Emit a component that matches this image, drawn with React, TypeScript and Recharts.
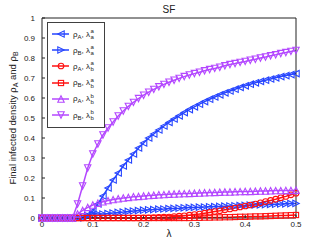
import { LineChart, Line, XAxis, YAxis, Legend, Label } from "recharts";

const lambdas = [
    0, 0.01, 0.02, 0.03, 0.04, 0.05, 0.06, 0.07, 0.08, 0.09,
    0.1, 0.11, 0.12, 0.13, 0.14, 0.15, 0.16, 0.17, 0.18, 0.19,
    0.2, 0.21, 0.22, 0.23, 0.24, 0.25, 0.26, 0.27, 0.28, 0.29,
    0.3, 0.31, 0.32, 0.33, 0.34, 0.35, 0.36, 0.37, 0.38, 0.39,
    0.4, 0.41, 0.42, 0.43, 0.44, 0.45, 0.46, 0.47, 0.48, 0.49, 0.5,
];

// rho_A, lambda_a^a
const rhoAaa = [
    0, 0, 0, 0, 0, 0, 0, 0, 0.004, 0.015,
    0.035, 0.07, 0.11, 0.15, 0.19, 0.225, 0.26, 0.29, 0.32, 0.35,
    0.375, 0.4, 0.42, 0.44, 0.46, 0.478, 0.495, 0.511, 0.527, 0.542,
    0.556, 0.569, 0.582, 0.594, 0.605, 0.616, 0.626, 0.635, 0.644, 0.653,
    0.661, 0.669, 0.676, 0.683, 0.689, 0.695, 0.701, 0.707, 0.712, 0.717, 0.722,
];
// rho_B, lambda_a^a
const rhoBaa = [
    0, 0, 0, 0, 0, 0, 0, 0, 0.004, 0.012,
    0.022, 0.02, 0.02, 0.022, 0.025, 0.028, 0.03, 0.033, 0.035, 0.037,
    0.039, 0.041, 0.042, 0.044, 0.045, 0.047, 0.048, 0.049, 0.051, 0.052,
    0.053, 0.054, 0.055, 0.056, 0.057, 0.058, 0.059, 0.06, 0.061, 0.062,
    0.063, 0.064, 0.065, 0.066, 0.067, 0.068, 0.069, 0.07, 0.071, 0.072, 0.073,
];
// rho_A, lambda_b^a
const rhoAba = [
    0, 0, 0, 0, 0, 0, 0, 0, 0, 0,
    0, 0, 0, 0, 0, 0, 0, 0, 0, 0,
    0.001, 0.001, 0.002, 0.003, 0.004, 0.005, 0.007, 0.009, 0.011, 0.014,
    0.017, 0.02, 0.024, 0.028, 0.032, 0.036, 0.041, 0.045, 0.05, 0.055,
    0.06, 0.065, 0.07, 0.076, 0.082, 0.088, 0.094, 0.101, 0.108, 0.116, 0.124,
];
// rho_B, lambda_b^a
const rhoBba = [
    0, 0, 0, 0, 0, 0, 0, 0, 0, 0,
    0, 0, 0, 0, 0, 0, 0, 0, 0, 0,
    0, 0, 0, 0, 0, 0, 0, 0, 0, 0,
    0.001, 0.001, 0.002, 0.002, 0.003, 0.003, 0.004, 0.004, 0.005, 0.006,
    0.006, 0.007, 0.008, 0.008, 0.009, 0.01, 0.011, 0.012, 0.013, 0.014, 0.015,
];
// rho_A, lambda_b^b
const rhoAbb = [
    0, 0, 0, 0, 0, 0, 0, 0.02, 0.038, 0.053,
    0.065, 0.074, 0.081, 0.087, 0.092, 0.096, 0.1, 0.103, 0.106, 0.108,
    0.11, 0.112, 0.114, 0.116, 0.117, 0.119, 0.12, 0.121, 0.122, 0.123,
    0.124, 0.125, 0.126, 0.127, 0.128, 0.129, 0.13, 0.13, 0.131, 0.132,
    0.133, 0.133, 0.134, 0.135, 0.135, 0.136, 0.137, 0.137, 0.138, 0.138, 0.139,
];
// rho_B, lambda_b^b
const rhoBbb = [
    0, 0, 0, 0, 0, 0, 0, 0.07, 0.16, 0.25,
    0.32, 0.37, 0.415, 0.45, 0.48, 0.51, 0.535, 0.558, 0.578, 0.597,
    0.614, 0.629, 0.643, 0.656, 0.668, 0.679, 0.689, 0.698, 0.707, 0.715,
    0.722, 0.729, 0.736, 0.742, 0.748, 0.754, 0.761, 0.767, 0.772, 0.778,
    0.783, 0.789, 0.794, 0.8, 0.805, 0.811, 0.816, 0.822, 0.827, 0.833, 0.838,
];

const xTicks = [0, 0.1, 0.2, 0.3, 0.4, 0.5];
const yTicks = [0, 0.1, 0.2, 0.3, 0.4, 0.5, 0.6, 0.7, 0.8, 0.9, 1];

const BLUE = "#2645ff";
const RED = "#ff1010";
const PURPLE = "#b448ff";

const series = [
    { key: "rhoAaa", sub: "A", sup: "a", low: "a", color: BLUE, shape: "left" },
    { key: "rhoBaa", sub: "B", sup: "a", low: "a", color: BLUE, shape: "right" },
    { key: "rhoAba", sub: "A", sup: "a", low: "b", color: RED, shape: "circle" },
    { key: "rhoBba", sub: "B", sup: "a", low: "b", color: RED, shape: "square" },
    { key: "rhoAbb", sub: "A", sup: "b", low: "b", color: PURPLE, shape: "up" },
    { key: "rhoBbb", sub: "B", sup: "b", low: "b", color: PURPLE, shape: "down" },
];

const data = lambdas.map((x, i) => ({
    x,
    rhoAaa: rhoAaa[i],
    rhoBaa: rhoBaa[i],
    rhoAba: rhoAba[i],
    rhoBba: rhoBba[i],
    rhoAbb: rhoAbb[i],
    rhoBbb: rhoBbb[i],
}));

const FONT = "'Liberation Sans', Arial, sans-serif";

function marker(shape: string, cx: number, cy: number, color: string, key?: any) {
    const r = 3.2;
    const common = { fill: "none", stroke: color, strokeWidth: 1.1 };
    if (shape === "circle") return <circle key={key} cx={cx} cy={cy} r={2.8} {...common} />;
    if (shape === "square") return <rect key={key} x={cx - 2.6} y={cy - 2.6} width={5.2} height={5.2} {...common} />;
    let pts = "";
    if (shape === "up") pts = `${cx},${cy - r} ${cx + r},${cy + r} ${cx - r},${cy + r}`;
    if (shape === "down") pts = `${cx},${cy + r} ${cx + r},${cy - r} ${cx - r},${cy - r}`;
    if (shape === "left") pts = `${cx - r},${cy} ${cx + r},${cy - r} ${cx + r},${cy + r}`;
    if (shape === "right") pts = `${cx + r},${cy} ${cx - r},${cy - r} ${cx - r},${cy + r}`;
    return <polygon key={key} points={pts} {...common} />;
}

const LegendBox = () => (
    <div
        style={{
            border: "1px solid #404040",
            background: "#fff",
            width: 58,
            padding: "3px 0 4px 0",
            fontFamily: FONT,
            boxSizing: "border-box",
        }}
    >
        {series.map((s) => (
            <div key={s.key} style={{ display: "flex", alignItems: "center", height: 16.2 }}>
                <svg width={22} height={12} style={{ marginLeft: 2 }}>
                    <line x1={2} y1={6} x2={19} y2={6} stroke={s.color} strokeWidth={1.5} />
                    {marker(s.shape, 11, 6, s.color)}
                </svg>
                <span style={{ fontSize: 8, color: "#222", whiteSpace: "nowrap", marginLeft: 1, display: "flex", alignItems: "center" }}>
                    ρ<span style={{ fontSize: 6, position: "relative", top: 2.5 }}>{s.sub}</span>,&nbsp;λ
                    <span style={{ display: "inline-flex", flexDirection: "column", fontSize: 6, lineHeight: "6px", marginLeft: 0.5 }}>
                        <span>{s.sup}</span>
                        <span>{s.low}</span>
                    </span>
                </span>
            </div>
        ))}
    </div>
);

export default function App() {
    return (
        <div style={{ position: "relative", width: 327, height: 246, background: "#fff" }}>
            <style>{"body{margin:0}"}</style>
            <LineChart width={327} height={246} data={data} margin={{ top: 17, right: 30, bottom: 0, left: 0 }}>
                <XAxis
                    dataKey="x"
                    type="number"
                    domain={[0, 0.5]}
                    ticks={xTicks}
                    tickFormatter={(v) => `${v}`}
                    height={28}
                    stroke="#222"
                    tickSize={-3}
                    tickMargin={6}
                    tick={{ fontSize: 8, fill: "#222", fontFamily: FONT }}
                >
                    <Label
                        content={({ viewBox }: any) => (
                            <text x={viewBox.x + viewBox.width / 2} y={237} textAnchor="middle" fontSize={10} fontFamily={FONT} fill="#222">
                                λ
                            </text>
                        )}
                    />
                </XAxis>
                <XAxis
                    xAxisId="top"
                    dataKey="x"
                    type="number"
                    orientation="top"
                    domain={[0, 0.5]}
                    ticks={xTicks}
                    height={1}
                    stroke="#222"
                    tickSize={-3}
                    tick={false}
                >
                    <Label
                        content={() => (
                            <text x={169} y={13} textAnchor="middle" fontSize={10} fontFamily={FONT} fill="#222">
                                SF
                            </text>
                        )}
                    />
                </XAxis>
                <YAxis
                    type="number"
                    domain={[0, 1]}
                    ticks={yTicks}
                    tickFormatter={(v) => `${v}`}
                    width={42}
                    stroke="#222"
                    tickSize={-3}
                    tickMargin={10}
                    tick={{ fontSize: 8, fill: "#222", fontFamily: FONT }}
                >
                    <Label
                        content={({ viewBox }: any) => {
                            const cy = viewBox.y + viewBox.height / 2;
                            return (
                                <text
                                    x={16}
                                    y={cy}
                                    transform={`rotate(-90 16 ${cy})`}
                                    textAnchor="middle"
                                    fontSize={9.5}
                                    fontFamily={FONT}
                                    fill="#222"
                                >
                                    Final infected density ρ
                                    <tspan fontSize={7} dy={2}>A</tspan>
                                    <tspan dy={-2}> and ρ</tspan>
                                    <tspan fontSize={7} dy={2}>B</tspan>
                                </text>
                            );
                        }}
                    />
                </YAxis>
                <YAxis
                    yAxisId="right"
                    orientation="right"
                    type="number"
                    domain={[0, 1]}
                    ticks={yTicks}
                    width={1}
                    stroke="#222"
                    tickSize={-3}
                    tick={false}
                />
                {/* invisible series so the top and right frame axes get drawn */}
                <Line
                    xAxisId="top"
                    yAxisId="right"
                    dataKey="rhoAaa"
                    stroke="none"
                    dot={false}
                    activeDot={false}
                    legendType="none"
                    isAnimationActive={false}
                />
                {series.map((s) => (
                    <Line
                        key={s.key}
                        dataKey={s.key}
                        stroke={s.color}
                        strokeWidth={1.5}
                        isAnimationActive={false}
                        dot={(p: any) => marker(s.shape, p.cx, p.cy, s.color, `${s.key}-${p.index}`)}
                        activeDot={false}
                    />
                ))}
                <Legend
                    layout="horizontal"
                    verticalAlign="middle"
                    align="center"
                    content={() => <LegendBox />}
                    wrapperStyle={{ left: 47, top: 22, width: 58 }}
                />
            </LineChart>
        </div>
    );
}
